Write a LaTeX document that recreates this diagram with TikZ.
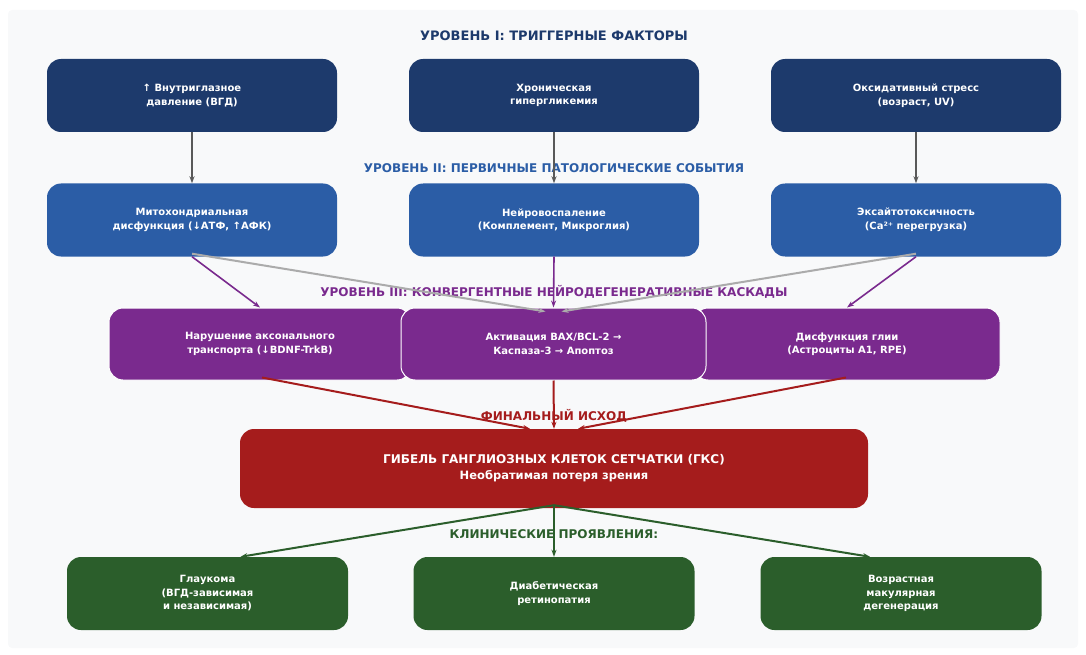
\documentclass[tikz,border=0pt]{standalone}
\usepackage{fontspec}
\setmainfont{DejaVu Sans}
\usetikzlibrary{arrows.meta,calc}

\definecolor{trigcol}{HTML}{1D3A6C}
\definecolor{primcol}{HTML}{2B5DA6}
\definecolor{casccol}{HTML}{7A2A8E}
\definecolor{fincol}{HTML}{A51C1C}
\definecolor{clincol}{HTML}{2B5E2B}
\definecolor{panelcol}{HTML}{F8F9FA}

\tikzset{
  box/.style={rectangle,rounded corners=14pt,minimum width=290pt,minimum height=73pt,
    text=white,align=center,inner sep=2pt,font=\bfseries\fontsize{10}{13.5}\selectfont},
  trig/.style={box,fill=trigcol},
  prim/.style={box,fill=primcol},
  casc/.style={box,fill=casccol,draw=white,line width=1pt,minimum height=72pt},
  fin/.style={box,fill=fincol,minimum width=628pt,minimum height=79pt,font=\bfseries\fontsize{12}{16}\selectfont},
  clin/.style={box,fill=clincol,minimum width=281pt},
  lvl/.style={font=\bfseries\fontsize{12}{14}\selectfont},
  link/.style={-{Stealth[length=7pt,width=5pt]},line width=1.6pt},
}

\begin{document}
\begin{tikzpicture}[x=1pt,y=-1pt]
	\useasboundingbox (0,0) rectangle (1086,655);
	\fill[panelcol,rounded corners=4pt] (8,10) rectangle (1078,648);
	% level headings
	\node[lvl,text=trigcol,font=\bfseries\fontsize{13}{15}\selectfont] (h1) at (554,36) {УРОВЕНЬ I: ТРИГГЕРНЫЕ ФАКТОРЫ};
	\node[lvl,text=primcol] (h2) at (554,168) {УРОВЕНЬ II: ПЕРВИЧНЫЕ ПАТОЛОГИЧЕСКИЕ СОБЫТИЯ};
	\node[lvl,text=casccol] (h3) at (554,292) {УРОВЕНЬ III: КОНВЕРГЕНТНЫЕ НЕЙРОДЕГЕНЕРАТИВНЫЕ КАСКАДЫ};
	\node[lvl,text=fincol] (h4) at (554,416) {ФИНАЛЬНЫЙ ИСХОД};
	\node[lvl,text=clincol] (h5) at (554,534) {КЛИНИЧЕСКИЕ ПРОЯВЛЕНИЯ:};
	% level I
	\node[trig] (t1) at (192,95.5) {↑ Внутриглазное\\давление (ВГД)};
	\node[trig] (t2) at (554,95.5) {Хроническая\\гипергликемия};
	\node[trig] (t3) at (916,95.5) {Оксидативный стресс\\(возраст, UV)};
	% level II
	\node[prim] (m1) at (192,220) {Митохондриальная\\дисфункция (↓АТФ, ↑АФК)};
	\node[prim] (m2) at (554,220) {Нейровоспаление\\(Комплемент, Микроглия)};
	\node[prim] (m3) at (916,220) {Эксайтотоксичность\\(Ca²⁺ перегрузка)};
	% level III
	\node[casc,minimum width=302pt] (c1) at (260,344) {Нарушение аксонального\\транспорта (↓BDNF-TrkB)};
	\node[casc,minimum width=306pt] (c3) at (847,344) {Дисфункция глии\\(Астроциты A1, RPE)};
	\node[casc,minimum width=305pt] (c2) at (553.5,344) {Активация BAX/BCL-2 →\\Каспаза-3 → Апоптоз};
	% outcome
	\node[fin] (f) at (554,468.5) {ГИБЕЛЬ ГАНГЛИОЗНЫХ КЛЕТОК СЕТЧАТКИ (ГКС)\\{\fontsize{11.5}{15}\selectfont Необратимая потеря зрения}};
	% clinical
	\node[clin] (g1) at (207.5,593.5) {Глаукома\\(ВГД-зависимая\\и независимая)};
	\node[clin] (g2) at (554,593.5) {Диабетическая\\ретинопатия};
	\node[clin] (g3) at (901,593.5) {Возрастная\\макулярная\\дегенерация};

	\foreach \i in {1,2,3}
		\draw[link,black!65] (t\i.south) -- (m\i.north);
	\coordinate (gl) at ($(c2.north)+(-8,4)$);
	\coordinate (gr) at ($(c2.north)+(8,4)$);
	\draw[link,casccol] (m1.south) -- (c1.north);
	\draw[link,casccol] (m2.south) -- (c2.north);
	\draw[link,casccol] (m3.south) -- (c3.north);
	\draw[link,black!33,line width=2pt] ($(m1.south)+(0,-3)$) -- (gl);
	\draw[link,black!33,line width=2pt] ($(m3.south)+(0,-3)$) -- (gr);
	\coordinate (fl) at ($(f.north)+(-24,0)$);
	\coordinate (fr) at ($(f.north)+(24,0)$);
	\draw[link,fincol,line width=2pt] ($(c1.south)+(2,-3)$) -- (fl);
	\draw[link,fincol,line width=2pt] (c2.south) -- (f.north);
	\draw[link,fincol,line width=2pt] ($(c3.south)+(-1,-3)$) -- (fr);
	\coordinate (fb) at ($(f.south)+(0,-3)$);
	\draw[link,clincol,line width=2pt] (fb) -- ($(g1.north)+(33,0)$);
	\draw[link,clincol,line width=2pt] (fb) -- (g2.north);
	\draw[link,clincol,line width=2pt] (fb) -- ($(g3.north)+(-31,0)$);
\end{tikzpicture}
\end{document}
